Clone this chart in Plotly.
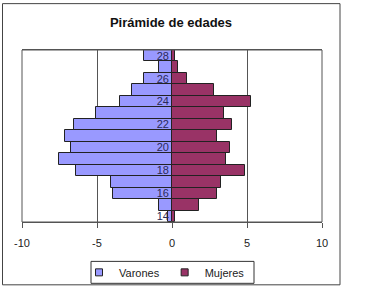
import plotly.graph_objects as go

ages = [14, 15, 16, 17, 18, 19, 20, 21, 22, 23, 24, 25, 26, 27, 28]
varones = [-0.27, -0.84, -3.93, -4.09, -6.38, -7.56, -6.73, -7.13, -6.56, -5.1, -3.49, -2.67, -1.9, -0.84, -1.9]
mujeres = [0.22, 1.82, 2.98, 3.27, 4.84, 3.62, 3.84, 2.98, 4.02, 3.44, 5.29, 2.8, 0.98, 0.4, 0.22]
age_ticks = [14, 16, 18, 20, 22, 24, 26, 28]
x_ticks = [-10, -5, 0, 5, 10]
series_names = ["Varones", "Mujeres"]
series_colors = ["#9999FF", "#993366"]

W, H = 371, 289
L, R, T, B = 22, 322, 50, 222.5

fig = go.Figure()
for name, vals, col in zip(series_names, [varones, mujeres], series_colors):
    fig.add_trace(go.Bar(y=ages, x=vals, orientation="h", name=name, showlegend=False,
                         marker=dict(color=col, line=dict(color="#222222", width=1))))
# legend entries with small square keys
for name, col in zip(series_names, series_colors):
    fig.add_trace(go.Scatter(x=[None], y=[None], mode="markers", name=name,
                             marker=dict(symbol="square", size=7, color=col,
                                         line=dict(color="#222222", width=1))))

def px_x(p):
    return (p - L) / (R - L)

def px_y(p):
    return (B - p) / (B - T)

fig.update_layout(
    width=W, height=H,
    margin=dict(l=L, r=W - R, t=T, b=H - B, autoexpand=False),
    paper_bgcolor="white", plot_bgcolor="white",
    barmode="relative", bargap=0,
    font=dict(family="Liberation Sans, Arial, sans-serif", size=11, color="#222222"),
    title=dict(text="<b>Pirámide de edades</b>", x=px_x(171), xref="paper", xanchor="center",
               y=1 - 22 / H, yanchor="middle", font=dict(size=13, color="#111111")),
    xaxis=dict(range=[-10, 10], tickvals=x_ticks, ticktext=[str(v) for v in x_ticks],
               showgrid=True, gridcolor="#555555", gridwidth=1, zeroline=True,
               zerolinecolor="#555555", zerolinewidth=1,
               ticks="outside", ticklen=5, tickcolor="#555555", ticklabelstandoff=6,
               showline=True, linecolor="#555555", mirror=True,
               tickfont=dict(size=11, color="#222222")),
    yaxis=dict(range=[13.5, 28.5], tickvals=age_ticks, ticktext=[str(v) for v in age_ticks],
               anchor="free", position=0.5, showgrid=False, zeroline=False, showline=False,
               ticks="", ticklabelstandoff=3,
               tickfont=dict(size=11, color="#2a2a5a")),
    showlegend=True,
    legend=dict(orientation="h", x=px_x(79), xanchor="left", y=px_y(273), yanchor="middle",
                xref="paper", yref="paper",
                borderwidth=0, bgcolor="rgba(0,0,0,0)",
                font=dict(size=11, color="#222222"), itemwidth=30,
                tracegroupgap=0),
    shapes=[
        dict(type="rect", xref="paper", yref="paper", x0=0, x1=1, y0=0, y1=1,
             line=dict(color="#555555", width=1), layer="above"),
        dict(type="rect", xref="paper", yref="paper",
             x0=px_x(2.5), x1=px_x(340), y0=px_y(285.5), y1=px_y(3.5),
             line=dict(color="#444444", width=1), layer="below"),
        dict(type="rect", xref="paper", yref="paper",
             x0=px_x(91), x1=px_x(254), y0=px_y(284), y1=px_y(262),
             line=dict(color="#333333", width=1), layer="below"),
    ],
)

fig.write_html("out.html")
